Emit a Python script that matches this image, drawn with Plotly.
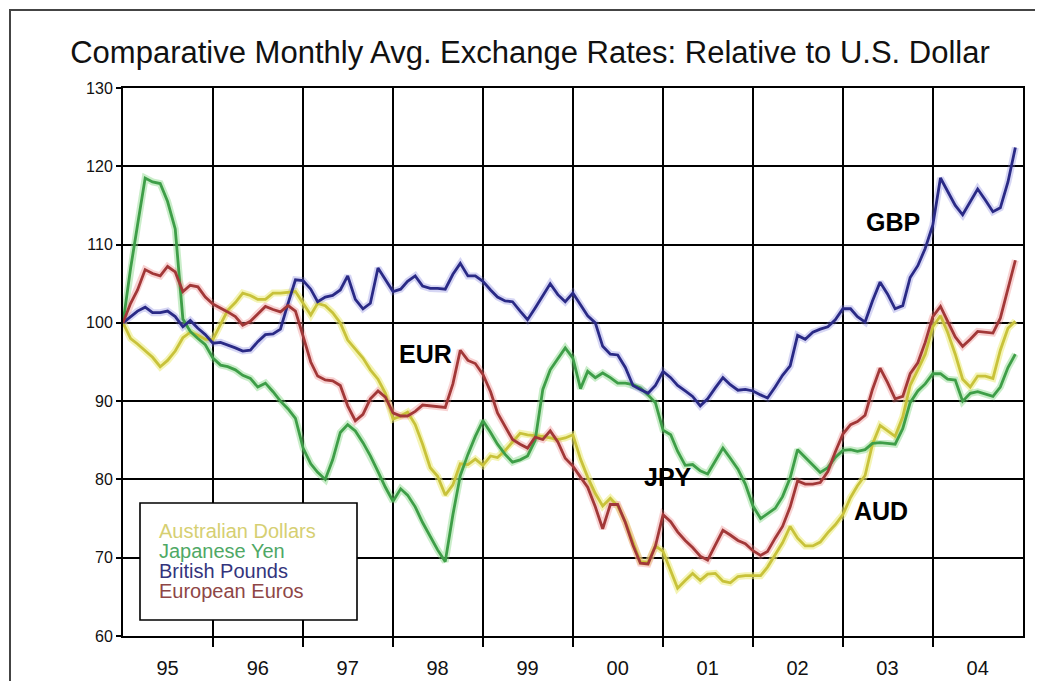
import plotly.graph_objects as go
import pandas as pd

# ---------------- data (monthly index, Jan 1995 = 100) ----------------
months = pd.date_range("1995-01-01", periods=120, freq="MS")

year_labels = ["95", "96", "97", "98", "99", "00", "01", "02", "03", "04"]

aud = [100.0, 98.0, 97.3, 96.5, 95.6, 94.4, 95.2, 96.4, 98.1, 98.8, 98.4, 97.9,
       97.9, 99.8, 101.6, 102.6, 103.8, 103.5, 103.0, 103.0, 103.8, 103.8, 103.9, 104.0,
       102.5, 101.0, 102.5, 102.2, 101.3, 100.0, 97.8, 96.6, 95.5, 94.0, 92.8, 91.0,
       87.7, 88.1, 88.6, 87.0, 84.5, 81.5, 80.4, 78.0, 79.3, 82.0, 81.9, 82.6,
       81.8, 83.0, 82.8, 83.7, 84.8, 85.9, 85.7, 85.6, 85.5, 85.3, 85.1, 85.3,
       85.7, 82.6, 80.3, 78.2, 76.6, 77.6, 76.6, 74.6, 71.9, 69.5, 69.4, 71.5,
       70.8, 68.2, 66.1, 67.1, 68.0, 67.1, 67.9, 68.0, 67.0, 66.8, 67.6, 67.7,
       67.7, 67.7, 68.8, 70.3, 71.9, 74.0, 72.5, 71.5, 71.5, 72.0, 73.2, 74.2,
       75.5, 77.7, 79.2, 80.5, 84.5, 86.9, 86.2, 85.5, 88.0, 92.0, 94.0, 96.0,
       99.5, 100.9, 98.8, 96.0, 92.8, 91.8, 93.2, 93.2, 92.9, 96.5, 99.3, 100.2]

jpy = [100.0, 107.0, 112.5, 118.5, 118.0, 117.8, 115.5, 112.0, 100.5, 98.9, 98.0, 97.2,
       95.5, 94.6, 94.4, 94.0, 93.3, 92.9, 91.8, 92.3, 91.2, 90.0, 89.0, 87.8,
       84.0, 82.0, 80.9, 80.0, 82.5, 86.0, 87.0, 86.2, 84.7, 83.0, 81.0, 79.0,
       77.2, 78.8, 78.0, 76.5, 74.5, 72.7, 71.0, 69.5, 75.5, 80.5, 83.2, 85.5,
       87.5, 86.0, 84.5, 83.2, 82.2, 82.5, 83.0, 85.0, 91.5, 94.0, 95.5, 96.8,
       95.5, 91.6, 93.8, 93.0, 93.6, 93.0, 92.3, 92.3, 92.1, 91.7, 90.8, 89.8,
       86.3, 85.7, 83.6, 81.8, 81.9, 81.1, 80.7, 82.3, 84.0, 82.7, 81.3, 79.4,
       76.6, 75.0, 75.6, 76.3, 77.8, 80.2, 83.8, 82.8, 81.8, 80.9, 81.5, 82.8,
       83.7, 83.8, 83.6, 83.8, 84.6, 84.7, 84.6, 84.5, 86.5, 89.8, 91.3, 92.2,
       93.5, 93.5, 92.8, 92.7, 90.0, 91.0, 91.2, 90.9, 90.6, 91.8, 94.3, 96.0]

gbp = [100.0, 100.8, 101.5, 102.0, 101.3, 101.3, 101.5, 100.8, 99.5, 100.3, 99.3, 98.5,
       97.4, 97.5, 97.2, 96.8, 96.4, 96.5, 97.6, 98.5, 98.6, 99.2, 102.5, 105.5,
       105.4, 104.3, 102.7, 103.3, 103.5, 104.2, 106.0, 103.0, 101.8, 102.5, 107.0, 105.5,
       104.0, 104.3, 105.3, 106.0, 104.7, 104.4, 104.4, 104.3, 106.2, 107.6, 106.0, 106.0,
       105.3, 104.2, 103.3, 102.8, 102.7, 101.5, 100.4, 101.9, 103.5, 105.0, 103.6, 102.7,
       103.8, 102.3, 100.9, 100.0, 97.0, 96.0, 95.9, 94.3, 92.0, 91.5, 91.0, 92.0,
       93.8, 93.0, 92.0, 91.3, 90.6, 89.4, 90.3, 91.7, 93.0, 92.1, 91.4, 91.5,
       91.3, 90.8, 90.4, 91.8, 93.3, 94.5, 98.4, 97.9, 98.8, 99.2, 99.5, 100.4,
       101.8, 101.8, 100.8, 100.1, 102.8, 105.2, 103.7, 101.8, 102.2, 105.8, 107.3, 109.5,
       112.5, 118.5, 116.8, 115.0, 113.8, 115.5, 117.1, 115.7, 114.2, 114.7, 118.0, 122.4]

eur = [100.0, 102.5, 104.2, 106.8, 106.3, 106.0, 107.2, 106.5, 104.0, 104.8, 104.6, 103.3,
       102.4, 101.9, 101.4, 100.8, 99.7, 100.2, 101.2, 102.1, 101.7, 101.4, 102.2, 101.5,
       98.3, 95.0, 93.2, 92.7, 92.6, 92.0, 89.4, 87.5, 88.3, 90.3, 91.3, 90.5,
       88.5, 88.1, 88.1, 88.7, 89.5, 89.4, 89.3, 89.2, 92.2, 96.5, 95.2, 94.8,
       93.4, 91.2, 88.5, 86.7, 85.1, 84.5, 84.0, 85.4, 85.1, 86.2, 84.8, 82.7,
       81.7, 80.3, 79.0, 76.5, 73.7, 76.8, 76.8, 74.5, 71.6, 69.3, 69.2, 71.5,
       75.5, 74.6, 73.3, 72.2, 71.3, 70.2, 69.7, 71.6, 73.5, 72.9, 72.2, 71.8,
       70.9, 70.3, 70.8, 72.5, 74.0, 76.5, 79.8, 79.4, 79.4, 79.6, 81.0, 83.5,
       85.8, 87.0, 87.4, 88.2, 91.5, 94.2, 92.4, 90.3, 90.6, 93.5, 94.9, 97.5,
       100.8, 102.1, 100.2, 98.2, 97.0, 97.9, 98.9, 98.8, 98.7, 100.6, 104.5, 108.0]

series_names = ["Australian Dollars", "Japanese Yen", "British Pounds", "European Euros"]
series_values = [aud, jpy, gbp, eur]
series_colors = ["#c8c23a", "#3e9e48", "#2a2a86", "#a23838"]
halo_colors = ["rgba(235,235,120,0.55)", "rgba(120,210,120,0.40)",
               "rgba(120,120,220,0.30)", "rgba(235,130,130,0.35)"]
legend_colors = ["#d6cf72", "#4fa865", "#34347c", "#8e4646"]
short_labels = ["AUD", "JPY", "GBP", "EUR"]

# ---------------- geometry (page pixels; the page body adds an 8 px offset) ----------------
OFF = 8
W, H = 1043 - OFF, 681 - OFF
L, R, T, B = 123, 1023, 88, 636  # plot area in page pixels
FONT = "Liberation Sans, Arial, sans-serif"


def px(xp):
    return (xp - L) / (R - L)


def py(yp):
    return (B - yp) / (B - T)


fig = go.Figure()

# soft halo under each line (mimics the anti-aliased glow of the original)
for vals, hc in zip(series_values, halo_colors):
    fig.add_trace(go.Scatter(x=months, y=vals, mode="lines",
                             line=dict(color=hc, width=7), hoverinfo="skip",
                             showlegend=False))
for name, vals, col in zip(series_names, series_values, series_colors):
    fig.add_trace(go.Scatter(x=months, y=vals, mode="lines", name=name,
                             line=dict(color=col, width=2.8), showlegend=False))

year_starts = pd.date_range("1996-01-01", periods=9, freq="YS")
year_mids = pd.date_range("1995-07-01", periods=10, freq="12MS")

fig.update_xaxes(
    range=["1995-01-01", "2005-01-01"], automargin=False,
    tickmode="array", tickvals=year_mids, ticktext=year_labels,
    ticks="outside", ticklen=13, tickcolor="rgba(0,0,0,0)",
    tickfont=dict(family=FONT, size=20, color="#111"),
    showgrid=False, zeroline=False,
    showline=True, linecolor="black", linewidth=2, mirror=True,
    minor=dict(tickmode="array", tickvals=year_starts, showgrid=True,
               gridcolor="black", gridwidth=1.6, ticks="outside", ticklen=9,
               tickcolor="black", tickwidth=1.5),
)
fig.update_yaxes(
    range=[60, 130], dtick=10, tick0=60, automargin=False,
    ticks="outside", ticklen=5, tickcolor="black", tickwidth=1.5,
    tickfont=dict(family=FONT, size=16, color="#111"),
    showgrid=True, gridcolor="black", gridwidth=1.6, zeroline=False,
    showline=True, linecolor="black", linewidth=2, mirror=True,
)

shapes = [
    # outer frame of the picture
    dict(type="rect", xref="paper", yref="paper",
         x0=px(10), x1=px(1080), y0=py(720), y1=py(10),
         line=dict(color="#444", width=2), fillcolor="rgba(0,0,0,0)", layer="below"),
    # legend box
    dict(type="rect", xref="paper", yref="paper",
         x0=px(140), x1=px(357), y0=py(620), y1=py(503),
         line=dict(color="black", width=1.6), fillcolor="white", layer="above"),
]

annotations = []
legend_y = [531, 551, 571, 591]
for name, col, yy in zip(series_names, legend_colors, legend_y):
    annotations.append(dict(xref="paper", yref="paper", x=px(157), y=py(yy),
                            xanchor="left", yanchor="middle", showarrow=False,
                            text=name, font=dict(family=FONT, size=20, color=col)))

label_pos = {"EUR": (425, 354), "JPY": (668, 477), "GBP": (893, 222), "AUD": (881, 511)}
for lab in short_labels:
    xx, yy = label_pos[lab]
    annotations.append(dict(xref="paper", yref="paper", x=px(xx), y=py(yy),
                            xanchor="center", yanchor="middle", showarrow=False,
                            text="<b>%s</b>" % lab,
                            font=dict(family=FONT, size=25, color="black")))

fig.update_layout(
    width=W, height=H,
    margin=dict(l=L - OFF, r=W - (R - OFF), t=T - OFF, b=H - (B - OFF), autoexpand=False),
    paper_bgcolor="white", plot_bgcolor="white",
    title=dict(text="Comparative Monthly Avg. Exchange Rates: Relative to U.S. Dollar",
               x=(530 - OFF) / W, xanchor="center", y=1 - (52 - OFF) / H, yanchor="middle",
               xref="container", yref="container",
               font=dict(family=FONT, size=31, color="#111")),
    shapes=shapes,
    annotations=annotations,
    showlegend=False,
)

fig.write_html("out.html")
